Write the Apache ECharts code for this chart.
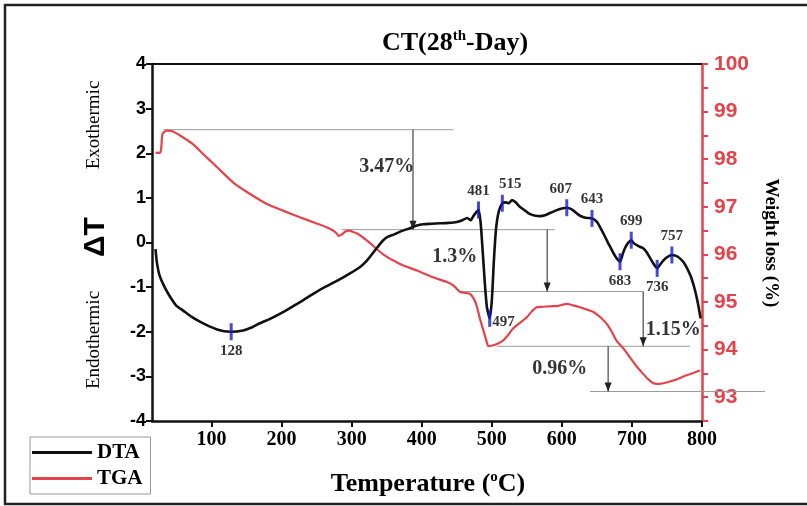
<!DOCTYPE html>
<html><head><meta charset="utf-8">
<script src="https://cdn.jsdelivr.net/npm/echarts@6/dist/echarts.min.js"></script>
<style>html,body{margin:0;padding:0;background:#fff}#c{width:807px;height:506px}</style>
</head><body><div id="c"></div>
<script>
// ---------------- data ----------------
const dtaT = [20,22,26,33,41,50,59,70,84,97,108,118,128,145,158,169,185,202,216,231,245,259,274,288,300,312,322,330,337,345,352,359,370,383,393,402,414,426,438,450,458,465,470,474,478,481,484,487,490,493,497,500,503,506,510,515,520,524,529,534,540,547,554,562,569,576,583,592,600,607,612,616,623,630,636,643,650,655,660,665,669,674,678,683,687,690,694,699,703,707,712,716,721,726,731,736,740,745,750,757,763,768,774,780,785,790,794,798];
const dtaV = [-0.15,-0.45,-0.75,-1.0,-1.22,-1.42,-1.52,-1.65,-1.78,-1.88,-1.95,-1.99,-2.0,-1.97,-1.9,-1.81,-1.7,-1.56,-1.43,-1.29,-1.15,-1.02,-0.9,-0.78,-0.67,-0.55,-0.4,-0.24,-0.1,0.05,0.13,0.17,0.25,0.32,0.38,0.41,0.42,0.43,0.44,0.46,0.5,0.55,0.5,0.6,0.68,0.73,0.45,-0.2,-0.9,-1.45,-1.7,-1.3,-0.4,0.3,0.7,0.88,0.9,0.88,0.95,0.9,0.8,0.72,0.64,0.6,0.59,0.61,0.66,0.72,0.76,0.78,0.76,0.72,0.63,0.57,0.55,0.54,0.46,0.33,0.18,0.02,-0.1,-0.25,-0.35,-0.43,-0.25,-0.13,-0.02,0.05,-0.02,-0.06,-0.1,-0.13,-0.22,-0.35,-0.48,-0.58,-0.5,-0.4,-0.33,-0.28,-0.3,-0.35,-0.45,-0.62,-0.8,-1.07,-1.35,-1.7];

const tgaT = [20,26,28,30,36,45,59,73,88,108,131,155,179,202,226,250,269,278,281,286,291,297,302,308,322,345,369,393,416,436,445,455,463,469,475,479,483,488,492,495,502,509,516,523,530,540,550,557,564,573,583,595,607,616,626,636,645,655,664,671,678,688,697,706,716,723,730,736,740,750,759,768,778,788,797];
const tgaW = [98.14,98.13,98.2,98.53,98.6,98.58,98.46,98.32,98.11,97.83,97.51,97.27,97.06,96.92,96.78,96.65,96.54,96.45,96.39,96.42,96.48,96.5,96.47,96.44,96.29,96.0,95.8,95.66,95.52,95.42,95.35,95.21,95.19,95.17,95.05,94.89,94.65,94.4,94.2,94.07,94.09,94.13,94.19,94.3,94.44,94.56,94.68,94.8,94.89,94.9,94.91,94.92,94.96,94.93,94.89,94.84,94.79,94.68,94.54,94.38,94.19,94.02,93.84,93.66,93.49,93.38,93.3,93.28,93.28,93.31,93.35,93.4,93.46,93.51,93.56];

const peakT = [128,481,497,515,607,643,683,699,736,757];
const peakV = [-2.0,0.73,-1.7,0.88,0.78,0.54,-0.43,0.05,-0.58,-0.28];

// weight-loss step annotations (temperature, weight %)
const stepX1 = [31,286,455,507,640, 387.5,579,716,666];
const stepW1 = [98.62,96.52,95.22,94.07,93.12, 98.62,96.52,95.22,94.07];
const stepX2 = [445,590,716,783,890, 387.5,579,716,666];
const stepW2 = [98.62,96.52,95.22,94.07,93.12, 96.52,95.22,94.07,93.12];
const stepIsArrow = [0,0,0,0,0,1,1,1,1];

const lossText = ['3.47%','1.3%','1.15%','0.96%'];
const lossT = [350,447,759,597];
const lossW = [97.83,95.95,94.42,93.59];

const xTicks = [100,200,300,400,500,600,700,800];
const leftTicks = [-4,-3,-2,-1,0,1,2,3,4];
const rightTicks = [93,94,95,96,97,98,99,100];

// ---------------- layout/styling ----------------
const RED = '#e6424a';
const SERIF = '"Liberation Serif","Times New Roman",serif';
const SANS = '"Liberation Sans",Arial,sans-serif';
const peakLabelLayout = {
  128:{position:'bottom',offset:[0,0]}, 481:{position:'top',offset:[0,0]},
  497:{position:'right',offset:[-2,4]}, 515:{position:'top',offset:[8,0]},
  607:{position:'top',offset:[-6,0]}, 643:{position:'top',offset:[0,0]},
  683:{position:'bottom',offset:[0,0]}, 699:{position:'top',offset:[0,0]},
  736:{position:'bottom',offset:[0,0]}, 757:{position:'top',offset:[0,0]}
};

const chart = echarts.init(document.getElementById('c'), null, {renderer:'canvas'});

const dtaData = dtaT.map((t,i)=>[t,dtaV[i]]);
const tgaData = tgaT.map((t,i)=>[t,tgaW[i]]);
const peakData = peakT.map((t,i)=>({value:[t,peakV[i]], name:String(t), label:peakLabelLayout[t]}));
const stepData = stepX1.map((x,i)=>[x,stepW1[i],stepX2[i],stepW2[i],stepIsArrow[i]]);
const lossData = lossText.map((s,i)=>({value:[lossT[i],lossW[i]], name:s}));

const option = {
  animation:false,
  grid:{left:152,right:105,top:64,bottom:85,containLabel:false},
  legend:{
    data:['DTA','TGA'], orient:'vertical', left:30, top:437,
    icon:'rect', itemWidth:60, itemHeight:3, itemGap:5,
    padding:[5,8,5,2], borderColor:'#999', borderWidth:1,
    textStyle:{fontFamily:SERIF, fontWeight:'bold', fontSize:21, color:'#000'},
    selectedMode:false
  },
  xAxis:[{
    type:'value', min:15, max:800, position:'bottom',
    axisLine:{onZero:false, lineStyle:{color:'#111', width:2.5}},
    axisTick:{show:true, customValues:xTicks, length:6, lineStyle:{width:2, color:'#111'}},
    axisLabel:{customValues:xTicks, fontFamily:SERIF, fontWeight:'bold', fontSize:20, color:'#000', margin:9},
    splitLine:{show:false}
  },{
    type:'value', min:15, max:800, position:'top',
    axisLine:{onZero:false, lineStyle:{color:'#111', width:2}},
    axisTick:{show:false}, axisLabel:{show:false}, splitLine:{show:false}
  }],
  yAxis:[{
    type:'value', min:-4, max:4, interval:1, position:'left',
    axisLine:{show:true, onZero:false, lineStyle:{color:'#111', width:2.5}},
    axisTick:{show:true, length:6, lineStyle:{width:2, color:'#111'}},
    axisLabel:{fontFamily:SANS, fontWeight:'bold', fontSize:18, color:'#000', margin:6,
      formatter:v=>leftTicks.includes(v)?String(v):''},
    splitLine:{show:false}
  },{
    type:'value', min:92.5, max:100, interval:0.5, position:'right',
    axisLine:{show:true, onZero:false, lineStyle:{color:RED, width:2.5}},
    axisTick:{show:true, length:6, lineStyle:{width:2, color:RED}},
    axisLabel:{fontFamily:SANS, fontWeight:'bold', fontSize:21, color:RED, margin:12,
      formatter:v=>rightTicks.includes(v)?String(v):''},
    splitLine:{show:false}
  }],
  series:[{
    name:'TGA', type:'line', xAxisIndex:0, yAxisIndex:1, data:tgaData,
    showSymbol:false, smooth:0.2, lineStyle:{color:RED, width:2.2}, itemStyle:{color:RED}, z:2
  },{
    name:'steps', type:'custom', xAxisIndex:0, yAxisIndex:1, data:stepData, clip:false, silent:true, z:1,
    renderItem:function(params, api){
      const p1 = api.coord([api.value(0), api.value(1)]);
      const p2 = api.coord([api.value(2), api.value(3)]);
      const arrow = api.value(4) === 1;
      const kids = [{type:'line', shape:{x1:p1[0],y1:p1[1],x2:p2[0],y2:p2[1]},
        style:{stroke: arrow ? '#222' : '#9a9a9a', lineWidth:1}}];
      if (arrow) kids.push({type:'polygon', shape:{points:[[p2[0]-3.5,p2[1]-9],[p2[0]+3.5,p2[1]-9],[p2[0],p2[1]]]}, style:{fill:'#222'}});
      return {type:'group', children:kids};
    }
  },{
    name:'DTA', type:'line', xAxisIndex:0, yAxisIndex:0, data:dtaData,
    showSymbol:false, smooth:0.2, lineStyle:{color:'#111', width:2.6}, itemStyle:{color:'#111'}, z:3
  },{
    name:'peaks', type:'scatter', xAxisIndex:0, yAxisIndex:0, data:peakData, silent:true, z:4,
    symbol:'rect', symbolSize:[3,17], itemStyle:{color:'#1c1cd0'},
    label:{show:true, formatter:p=>p.name, fontFamily:SERIF, fontWeight:'bold', fontSize:15, color:'#000', textBorderWidth:0, distance:3}
  },{
    name:'loss', type:'scatter', xAxisIndex:0, yAxisIndex:1, data:lossData, silent:true, z:5,
    symbol:'circle', symbolSize:1, itemStyle:{color:'rgba(0,0,0,0)'},
    label:{show:true, position:'inside', formatter:p=>p.name, fontFamily:SERIF, fontWeight:'bold', fontSize:20, color:'#000', textBorderWidth:0}
  }],
  graphic:[
    {type:'rect', shape:{x:5,y:5,width:810,height:499}, style:{fill:'none', stroke:'#222', lineWidth:2.5}, silent:true},
    {type:'text', x:455, y:43, style:{text:'{a|CT(28}{s|th}{a|-Day)}', align:'center', verticalAlign:'middle',
      rich:{a:{fontFamily:SERIF, fontWeight:'bold', fontSize:26, fill:'#000', lineHeight:28},
            s:{fontFamily:SERIF, fontWeight:'bold', fontSize:15, fill:'#000', verticalAlign:'top', lineHeight:28, padding:[0,0,11,0]}}}},
    {type:'text', x:428, y:484, style:{text:'{a|Temperature (}{s|o}{a|C)}', align:'center', verticalAlign:'middle',
      rich:{a:{fontFamily:SERIF, fontWeight:'bold', fontSize:26, fill:'#000', lineHeight:28},
            s:{fontFamily:SERIF, fontWeight:'bold', fontSize:15, fill:'#000', verticalAlign:'top', lineHeight:28, padding:[0,0,11,0]}}}},
    {type:'text', x:96, y:237, rotation:Math.PI/2, style:{text:'ΔT', align:'center', verticalAlign:'middle',
      fontFamily:SANS, fontWeight:'bold', fontSize:30, fill:'#000'}},
    {type:'text', x:94, y:125, rotation:Math.PI/2, style:{text:'Exothermic', align:'center', verticalAlign:'middle',
      fontFamily:SERIF, fontSize:19, fill:'#000'}},
    {type:'text', x:94, y:340, rotation:Math.PI/2, style:{text:'Endothermic', align:'center', verticalAlign:'middle',
      fontFamily:SERIF, fontSize:19, fill:'#000'}},
    {type:'text', x:771, y:243, rotation:-Math.PI/2, style:{text:'Weight loss (%)', align:'center', verticalAlign:'middle',
      fontFamily:SERIF, fontWeight:'bold', fontSize:19, fill:'#000'}}
  ]
};
chart.setOption(option);
</script>
</body></html>
